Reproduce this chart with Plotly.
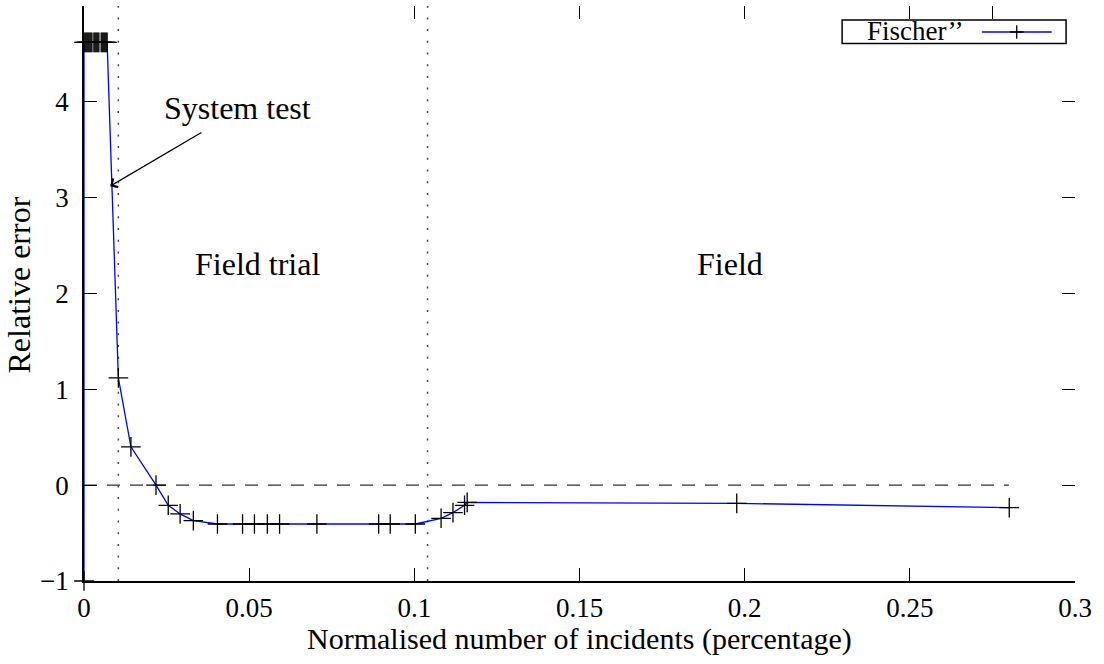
import plotly.graph_objects as go

# ---- data ----
top_x = [0.0, 0.0003, 0.0006, 0.0009, 0.0012, 0.0015, 0.0018, 0.0021, 0.0024,
         0.0030, 0.0033, 0.0036, 0.0039, 0.0042, 0.0045, 0.0052, 0.0055, 0.0058,
         0.0061, 0.0064, 0.0067, 0.0070]
rest_x = [0.0104, 0.0142, 0.0218, 0.0255, 0.0291, 0.0331, 0.0404, 0.0480, 0.0516,
          0.0555, 0.0592, 0.0705, 0.0892, 0.0927, 0.1003, 0.1081, 0.1117, 0.1152,
          0.1160, 0.1976, 0.2801]
rest_y = [1.12, 0.40, 0.0, -0.21, -0.30, -0.37, -0.405, -0.405, -0.405,
          -0.405, -0.405, -0.405, -0.405, -0.405, -0.405, -0.346, -0.287, -0.21,
          -0.18, -0.19, -0.235]
top_y_value = 4.62
x_vals = [0.0] + top_x + rest_x
y_vals = [-1.0] + [top_y_value] * len(top_x) + rest_y

zero_line_x = [0.0, 0.28]
zero_line_y = [0.0, 0.0]
phase_bounds = [0.0104, 0.104]
y_range = [-1, 5]
x_range = [0, 0.3]

x_ticks = [0, 0.05, 0.1, 0.15, 0.2, 0.25, 0.3]
x_ticktext = ["0", "0.05", "0.1", "0.15", "0.2", "0.25", "0.3"]
y_ticks = [-1, 0, 1, 2, 3, 4, 5]
top_ticks = [0.1, 0.15, 0.2, 0.25, 0.275, 0.3]

FONT = "'Liberation Serif', 'Times New Roman', 'DejaVu Serif', serif"
tick_font = dict(family=FONT, size=27, color="black")
title_font = dict(family=FONT, size=30, color="black")
big_font = dict(family=FONT, size=32, color="black")

fig = go.Figure()

# zero dashed line
fig.add_trace(go.Scatter(x=zero_line_x, y=zero_line_y, mode="lines",
                         line=dict(color="#333333", width=1.3, dash="13px,10px"),
                         showlegend=False, hoverinfo="skip"))
# phase boundaries dotted
for xb in phase_bounds:
    fig.add_trace(go.Scatter(x=[xb, xb], y=y_range, mode="lines",
                             line=dict(color="#444444", width=1.5, dash="2px,9.7px"),
                             showlegend=False, hoverinfo="skip"))

# main series
fig.add_trace(go.Scatter(x=x_vals, y=y_vals, mode="lines+markers", name="Fischer’’",
                         line=dict(color="#0000ff", width=1.3),
                         marker=dict(symbol="cross-thin", size=14,
                                     line=dict(color="black", width=1.3), color="black"),
                         cliponaxis=False, showlegend=False))

# invisible trace for mirror axes
fig.add_trace(go.Scatter(x=x_range, y=y_range, xaxis="x2", yaxis="y2", mode="markers",
                         marker=dict(opacity=0), showlegend=False, hoverinfo="skip"))

fig.update_layout(
    width=1104, height=664,
    margin=dict(l=84, r=29, t=6, b=83),
    paper_bgcolor="white", plot_bgcolor="white",
    font=tick_font,
    xaxis=dict(range=x_range, tickvals=x_ticks, ticktext=x_ticktext,
               ticks="inside", ticklen=13, tickwidth=1.3, tickcolor="black",
               showline=True, linecolor="black", linewidth=1.5,
               showgrid=False, zeroline=False, tickfont=tick_font,
               ticklabelstandoff=2),
    yaxis=dict(range=y_range, tickvals=y_ticks,
               ticks="inside", ticklen=13, tickwidth=1.3, tickcolor="black",
               showline=True, linecolor="black", linewidth=1.5,
               showgrid=False, zeroline=False, tickfont=tick_font,
               ticklabelstandoff=8),
    xaxis2=dict(range=x_range, overlaying="x", side="top", tickvals=top_ticks,
                ticks="inside", ticklen=13, tickwidth=1.3, tickcolor="black",
                showline=False, showgrid=False, zeroline=False, showticklabels=False),
    yaxis2=dict(range=y_range, overlaying="y", side="right", tickvals=y_ticks,
                ticks="inside", ticklen=13, tickwidth=1.3, tickcolor="black",
                showline=False, showgrid=False, zeroline=False, showticklabels=False),
)

# axis titles
fig.add_annotation(text="Normalised number of incidents (percentage)", xref="paper", yref="paper",
                   x=0.5, y=-0.1, yanchor="middle", showarrow=False, font=title_font)
fig.add_annotation(text="Relative error", xref="paper", yref="paper", x=-0.066, y=0.515,
                   xanchor="center", yanchor="middle", textangle=-90, showarrow=False,
                   font=big_font)

# text labels
fig.add_annotation(text="System test", x=0.0464, y=3.94, xref="x", yref="y",
                   showarrow=False, font=big_font)
fig.add_annotation(text="Field trial", x=0.0524, y=2.31, xref="x", yref="y",
                   showarrow=False, font=big_font)
fig.add_annotation(text="Field", x=0.1955, y=2.31, xref="x", yref="y",
                   showarrow=False, font=big_font)
# arrow
fig.add_annotation(text="", x=0.0079, y=3.12, ax=0.036, ay=3.69, xref="x", yref="y",
                   axref="x", ayref="y", showarrow=True, arrowhead=4, arrowsize=1.6,
                   arrowwidth=1.2, arrowcolor="black")

# legend (gnuplot style: text then sample)
lx0, lx1, ly0, ly1 = 0.765, 0.991, 0.935, 0.9757
fig.add_shape(type="rect", xref="paper", yref="paper", x0=lx0, x1=lx1, y0=ly0, y1=ly1,
              line=dict(color="black", width=1.5), fillcolor="white", layer="above")
fig.add_shape(type="line", xref="paper", yref="paper", x0=0.906, x1=0.9765, y0=0.9548, y1=0.9548,
              line=dict(color="#0000ff", width=1.3), layer="above")
cx, cy, dx, dy = 0.9412, 0.9548, 0.0068, 0.0118
fig.add_shape(type="path", xref="paper", yref="paper",
              path=f"M {cx-dx},{cy} L {cx+dx},{cy} M {cx},{cy-dy} L {cx},{cy+dy}",
              line=dict(color="black", width=1.3), layer="above")
fig.add_annotation(text="Fischer’’", xref="paper", yref="paper", x=0.889, y=0.956,
                   xanchor="right", yanchor="middle", showarrow=False, font=tick_font)

fig.write_html("out.html")
